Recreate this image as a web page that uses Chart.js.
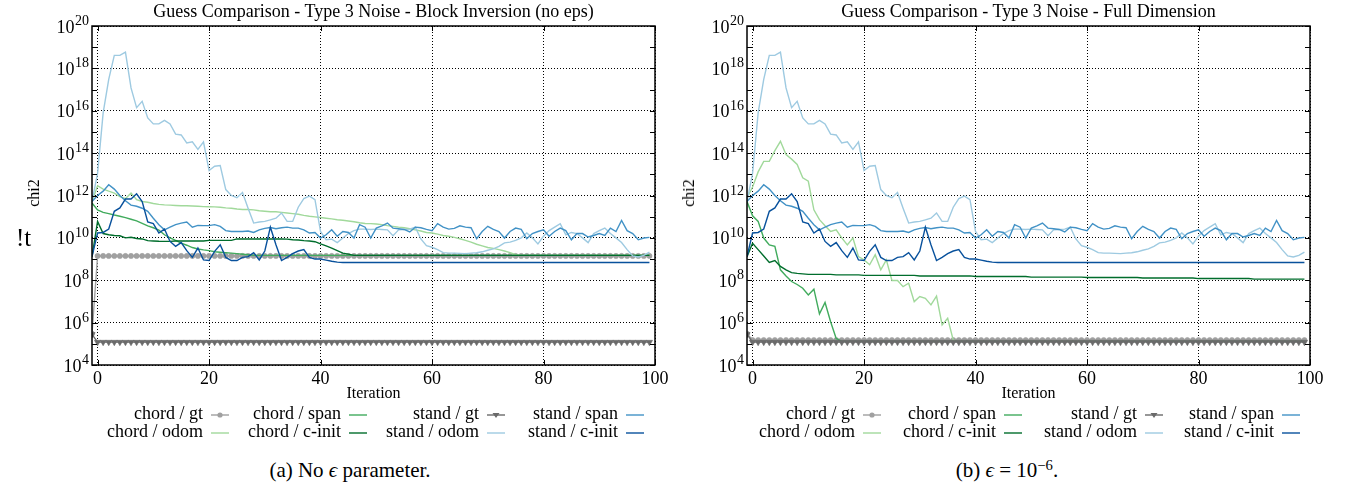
<!DOCTYPE html>
<html><head><meta charset="utf-8">
<script src="https://cdn.jsdelivr.net/npm/chart.js@4.4.1/dist/chart.umd.min.js"></script>
<style>
html,body{margin:0;padding:0;background:#fff;}
#wrap{position:relative;width:1346px;height:489px;overflow:hidden;font-family:'Liberation Serif','Times New Roman',serif;color:#000;background:#fff;}
#wrap canvas{position:absolute;top:0;}
.t{position:absolute;white-space:nowrap;line-height:1;}
.t sup{font-size:70%;vertical-align:0.5em;line-height:0;}
</style></head>
<body><div id="wrap">
<canvas id="c1" width="673" height="400" style="left:0px"></canvas>
<canvas id="c2" width="673" height="400" style="left:673px"></canvas>
</div>
<script>
// ---------------- data ----------------
const iterations = [-1,
0,1,2,3,4,5,6,7,8,9,
10,11,12,13,14,15,16,17,18,19,
20,21,22,23,24,25,26,27,28,29,
30,31,32,33,34,35,36,37,38,39,
40,41,42,43,44,45,46,47,48,49,
50,51,52,53,54,55,56,57,58,59,
60,61,62,63,64,65,66,67,68,69,
70,71,72,73,74,75,76,77,78,79,
80,81,82,83,84,85,86,87,88,89,
90,91,92,93,94,95,96,97,98,99];

const xTickValues = [0, 20, 40, 60, 80, 100];
const xTickLabels = ['0', '20', '40', '60', '80', '100'];
const yDecades = [4,5,6,7,8,9,10,11,12,13,14,15,16,17,18,19,20];
const yLabelDecades = [4,6,8,10,12,14,16,18,20];

const seriesLabels = ['chord / gt','chord / odom','chord / span','chord / c-init','stand / gt','stand / odom','stand / span','stand / c-init'];

// (a) No eps parameter
const chordGtA = [3e5,
1.4e9,1.4e9,1.4e9,1.4e9,1.4e9,1.4e9,1.4e9,1.4e9,1.4e9,1.4e9,
1.4e9,1.4e9,1.4e9,1.4e9,1.4e9,1.4e9,1.4e9,1.4e9,1.4e9,1.4e9,
1.4e9,1.4e9,1.4e9,1.4e9,1.4e9,1.4e9,1.4e9,1.4e9,1.4e9,1.4e9,
1.4e9,1.4e9,1.4e9,1.4e9,1.4e9,1.4e9,1.4e9,1.4e9,1.4e9,1.4e9,
1.4e9,1.4e9,1.4e9,1.4e9,1.4e9,1.4e9,1.4e9,1.4e9,1.4e9,1.4e9,
1.4e9,1.4e9,1.4e9,1.4e9,1.4e9,1.4e9,1.4e9,1.4e9,1.4e9,1.4e9,
1.4e9,1.4e9,1.4e9,1.4e9,1.4e9,1.4e9,1.4e9,1.4e9,1.4e9,1.4e9,
1.4e9,1.4e9,1.4e9,1.4e9,1.4e9,1.4e9,1.4e9,1.4e9,1.4e9,1.4e9,
1.4e9,1.4e9,1.4e9,1.4e9,1.4e9,1.4e9,1.4e9,1.4e9,1.4e9,1.4e9,
1.4e9,1.4e9,1.4e9,1.4e9,1.4e9,1.4e9,1.4e9,1.4e9,1.4e9,1.4e9];

const chordOdomA = [
5.2e11,2.9e12,2e12,1.6e12,1.3e12,8.9e11,7.1e11,1.3e12,6.3e11,5.2e11,
4.8e11,4.2e11,3.8e11,3.6e11,3.5e11,3.4e11,3.3e11,3.3e11,3.2e11,3.1e11,
3e11,2.95e11,2.9e11,2.8e11,2.6e11,2.5e11,2.3e11,2.2e11,2.2e11,2.1e11,
1.9e11,1.8e11,1.7e11,1.7e11,1.6e11,1.5e11,1.4e11,1.3e11,1.15e11,1.05e11,
9.8e10,9.1e10,8.5e10,7.9e10,7.2e10,6.8e10,6.3e10,5.8e10,5.2e10,4.8e10,
4.7e10,4.5e10,4.2e10,3.8e10,3.5e10,3.2e10,3e10,2.7e10,2.4e10,2.1e10,
1.8e10,1.7e10,1.5e10,1.3e10,1.2e10,1.05e10,9.1e9,7.6e9,6.3e9,5e9,
4.2e9,3.5e9,3.2e9,2.8e9,2.4e9,2e9,1.6e9,1.5e9,1.5e9,1.5e9,
1.5e9,1.5e9,1.5e9,1.5e9,1.5e9,1.5e9,1.5e9,1.5e9,1.5e9,1.5e9,
1.5e9,1.5e9,1.5e9,1.5e9,1.5e9,1.5e9,1.5e9,1.5e9,1.5e9,1.5e9,
1.5e9];

const chordSpanA = [
4.4e11,2.1e11,1.6e11,1.4e11,1.2e11,1.05e11,9.1e10,7.6e10,6.3e10,4.8e10,
3.7e10,3e10,2.3e10,1.4e10,1e10,7.6e9,5.6e9,4.5e9,3.5e9,3e9,
2.7e9,2.5e9,2.2e9,2.1e9,2e9,1.9e9,1.8e9,1.7e9,1.6e9,1.5e9,
1.5e9,1.5e9,1.5e9,1.5e9,1.5e9,1.5e9,1.5e9,1.5e9,1.5e9,1.5e9,
1.5e9,1.5e9,1.5e9,1.5e9,1.5e9,1.5e9,1.5e9,1.5e9,1.5e9,1.5e9,
1.5e9,1.5e9,1.5e9,1.5e9,1.5e9,1.5e9,1.5e9,1.5e9,1.5e9,1.5e9,
1.5e9,1.5e9,1.5e9,1.5e9,1.5e9,1.5e9,1.5e9,1.5e9,1.5e9,1.5e9,
1.5e9,1.5e9,1.5e9,1.5e9,1.5e9,1.5e9,1.5e9,1.5e9,1.5e9,1.5e9,
1.5e9,1.5e9,1.5e9,1.5e9,1.5e9,1.5e9,1.5e9,1.5e9,1.5e9,1.5e9,
1.5e9,1.5e9,1.5e9,1.5e9,1.5e9,1.5e9,1.5e9,1.5e9,1.5e9,1.5e9,
1.5e9];

const chordCinitA = [
1.3e9,6e10,1.6e10,1.4e10,1.3e10,1.26e10,1e10,1.07e10,9.3e9,8.9e9,
7.4e9,7.1e9,6.9e9,6.8e9,6.8e9,7.1e9,7.1e9,7.1e9,7.1e9,7.1e9,
7.1e9,7.6e9,7.6e9,7.6e9,7.6e9,7.6e9,8.9e9,8.9e9,8.9e9,8.9e9,
8.9e9,8.9e9,8.9e9,8.9e9,8.9e9,8.7e9,8.1e9,7.9e9,7.4e9,7.1e9,
6.6e9,5.2e9,4.2e9,3.3e9,2.5e9,1.9e9,1.7e9,
1.5e9,1.5e9,1.5e9,1.5e9,1.5e9,1.5e9,1.5e9,1.5e9,1.5e9,1.5e9,
1.5e9,1.5e9,1.5e9,1.5e9,1.5e9,1.5e9,1.5e9,1.5e9,1.5e9,1.5e9,
1.5e9,1.5e9,1.5e9,1.5e9,1.5e9,1.5e9,1.5e9,1.5e9,1.5e9,1.5e9,
1.5e9,1.5e9,1.5e9,1.5e9,1.5e9,1.5e9,1.5e9,1.5e9,1.5e9,1.5e9,
1.5e9,1.5e9,1.5e9,1.5e9,1.5e9,1.5e9,1.5e9,1.5e9,1.5e9,1.5e9,
1.5e9,1.5e9,1.5e9,1.5e9];

// stand series (same in both panels)
const standGt = [2.8e5,
1.2e5,1.2e5,1.2e5,1.2e5,1.2e5,1.2e5,1.2e5,1.2e5,1.2e5,1.2e5,
1.2e5,1.2e5,1.2e5,1.2e5,1.2e5,1.2e5,1.2e5,1.2e5,1.2e5,1.2e5,
1.2e5,1.2e5,1.2e5,1.2e5,1.2e5,1.2e5,1.2e5,1.2e5,1.2e5,1.2e5,
1.2e5,1.2e5,1.2e5,1.2e5,1.2e5,1.2e5,1.2e5,1.2e5,1.2e5,1.2e5,
1.2e5,1.2e5,1.2e5,1.2e5,1.2e5,1.2e5,1.2e5,1.2e5,1.2e5,1.2e5,
1.2e5,1.2e5,1.2e5,1.2e5,1.2e5,1.2e5,1.2e5,1.2e5,1.2e5,1.2e5,
1.2e5,1.2e5,1.2e5,1.2e5,1.2e5,1.2e5,1.2e5,1.2e5,1.2e5,1.2e5,
1.2e5,1.2e5,1.2e5,1.2e5,1.2e5,1.2e5,1.2e5,1.2e5,1.2e5,1.2e5,
1.2e5,1.2e5,1.2e5,1.2e5,1.2e5,1.2e5,1.2e5,1.2e5,1.2e5,1.2e5,
1.2e5,1.2e5,1.2e5,1.2e5,1.2e5,1.2e5,1.2e5,1.2e5,1.2e5,1.2e5];

const standOdom = [
5.2e11,1.1e13,7.9e15,3e17,4.1e18,4.1e18,5.9e18,1.2e17,1.4e16,2.8e16,
4.6e15,2.4e15,2.4e15,3.5e15,2.4e15,7.9e14,7.2e14,3e14,3.4e14,1.5e14,
3.4e14,1.5e13,2.4e13,2.6e13,1.9e12,1e12,7.9e11,1.4e12,2.5e11,5e10,
5.6e10,6e10,7.1e10,8.5e10,1.5e11,6e10,6e10,2.8e11,7.1e11,9.3e11,
6.3e11,2e10,8.1e9,8.7e9,6e9,9.8e9,1.6e10,2.2e10,2.6e10,2.6e10,
2.5e10,2.6e10,2.5e10,2.4e10,1.26e10,2.4e10,2.5e10,2.6e10,3.2e10,8.9e9,
4.3e9,3.6e9,2.8e9,2e9,1.9e9,1.9e9,1.86e9,1.8e9,1.9e9,2e9,
2.2e9,2.6e9,3e9,4e9,5.8e9,6.3e9,7.6e9,1e10,1.7e10,1e10,
5.2e9,1.2e10,2.2e10,3.2e10,4.7e10,1.4e10,1.8e10,1.6e10,1e10,6e9,
1.6e10,2.2e10,2.9e10,1.6e10,1e10,6e9,2.8e9,1.4e9,1.26e9,1.5e9,
2.1e9];

const standSpan = [
5.2e11,1e12,1.6e12,3.2e12,2e12,1e12,5.6e11,3.5e11,3.1e11,2.5e11,
1.8e11,8.5e10,4.2e10,2.4e10,3.2e10,4.2e10,5e10,5.6e10,3.2e10,3.9e10,
3.8e10,3.8e10,4.2e10,3.5e10,2.2e10,2e10,2e10,2e10,2.1e10,1.8e10,
2.4e10,2.8e10,3.1e10,2.7e10,3e10,3.2e10,2.9e10,2.9e10,2.4e10,1.7e10,
1.8e10,9.8e9,1.4e10,2.4e10,1.2e10,2e10,1.8e10,9.8e9,4.2e10,3.2e10,
9.8e9,2.9e10,3.7e10,5e10,2.9e10,2.7e10,2.5e10,1.9e10,3.2e10,3e10,
2.5e10,2.2e10,4.7e10,3.2e10,2.6e10,2.8e10,3.7e10,3.2e10,3e10,9.1e9,
2e10,3.5e10,2.5e10,2e10,9.8e9,2e10,2.9e10,2.5e10,9.1e9,1.6e10,
2e10,2.4e10,1.2e10,2e10,2.9e10,2.2e10,8.1e9,1.6e10,1.6e10,1.1e10,
1.3e10,1.6e10,1.3e10,2.9e10,2e10,6.6e10,2.2e10,1.6e10,8.1e9,9.8e9,
1.05e10];

const standCinit = [
1.3e9,1.7e10,1.8e10,2.6e10,1.8e11,2.6e11,6.8e11,6.8e11,1.2e12,5.2e11,
5.6e10,4.7e10,1.7e10,2.6e10,6.8e9,4e9,6e9,2.5e9,1.2e9,3.3e9,
9.1e8,8.5e8,2.3e9,4.7e9,1.2e9,8.5e8,8.5e8,1.2e9,1.3e9,2e9,
9.1e8,2.4e9,3.2e10,4.7e9,8.5e8,1.2e9,1.8e9,2.4e9,2.8e9,1.2e9,
1e9,1e9,8.9e8,7.9e8,7.2e8,
6.9e8,6.9e8,6.9e8,6.9e8,6.9e8,6.9e8,6.9e8,6.9e8,6.9e8,6.9e8,
6.9e8,6.9e8,6.9e8,6.9e8,6.9e8,6.9e8,6.9e8,6.9e8,6.9e8,6.9e8,
6.9e8,6.9e8,6.9e8,6.9e8,6.9e8,6.9e8,6.9e8,6.9e8,6.9e8,6.9e8,
6.9e8,6.9e8,6.9e8,6.9e8,6.9e8,6.9e8,6.9e8,6.9e8,6.9e8,6.9e8,
6.9e8,6.9e8,6.9e8,6.9e8,6.9e8,6.9e8,6.9e8,6.9e8,6.9e8,6.9e8,
6.9e8,6.9e8,6.9e8,6.9e8,6.9e8,6.9e8];

// (b) eps = 1e-6
const chordGtB = [3e5,
1.5e5,1.5e5,1.5e5,1.5e5,1.5e5,1.5e5,1.5e5,1.5e5,1.5e5,1.5e5,
1.5e5,1.5e5,1.5e5,1.5e5,1.5e5,1.5e5,1.5e5,1.5e5,1.5e5,1.5e5,
1.5e5,1.5e5,1.5e5,1.5e5,1.5e5,1.5e5,1.5e5,1.5e5,1.5e5,1.5e5,
1.5e5,1.5e5,1.5e5,1.5e5,1.5e5,1.5e5,1.5e5,1.5e5,1.5e5,1.5e5,
1.5e5,1.5e5,1.5e5,1.5e5,1.5e5,1.5e5,1.5e5,1.5e5,1.5e5,1.5e5,
1.5e5,1.5e5,1.5e5,1.5e5,1.5e5,1.5e5,1.5e5,1.5e5,1.5e5,1.5e5,
1.5e5,1.5e5,1.5e5,1.5e5,1.5e5,1.5e5,1.5e5,1.5e5,1.5e5,1.5e5,
1.5e5,1.5e5,1.5e5,1.5e5,1.5e5,1.5e5,1.5e5,1.5e5,1.5e5,1.5e5,
1.5e5,1.5e5,1.5e5,1.5e5,1.5e5,1.5e5,1.5e5,1.5e5,1.5e5,1.5e5,
1.5e5,1.5e5,1.5e5,1.5e5,1.5e5,1.5e5,1.5e5,1.5e5,1.5e5,1.5e5];

const chordOdomB = [
7.6e11,2.5e12,1.3e13,4.1e13,4.1e13,1.3e14,3.6e14,8.5e13,5.2e13,2.9e13,
6.8e12,4.7e12,2.1e11,7.2e10,3.7e10,2e10,2.4e10,1e10,4.7e9,9.8e9,
1.3e9,9.1e8,5.4e8,1.6e9,3.1e8,9.1e8,9.8e7,9.8e7,5e7,7.2e7,
9.8e6,1.7e7,1.4e7,6.9e6,1.8e7,7.8e5,1.6e6,1.5e5,
1.3e5,1.3e5,1.3e5,1.3e5,1.3e5,1.3e5,1.3e5,1.3e5,1.3e5,1.3e5,
1.3e5,1.3e5,1.3e5,1.3e5,1.3e5,1.3e5,1.3e5,1.3e5,1.3e5,1.3e5,
1.3e5,1.3e5,1.3e5,1.3e5,1.3e5,1.3e5,1.3e5,1.3e5,1.3e5,1.3e5,
1.3e5,1.3e5,1.3e5,1.3e5,1.3e5,1.3e5,1.3e5,1.3e5,1.3e5,1.3e5,
1.3e5,1.3e5,1.3e5,1.3e5,1.3e5,1.3e5,1.3e5,1.3e5,1.3e5,1.3e5,
1.3e5,1.3e5,1.3e5,1.3e5,1.3e5,1.3e5,1.3e5,1.3e5,1.3e5,1.3e5,
1.3e5,1.3e5,1.3e5];

const chordSpanB = [
5.2e11,1.1e11,6e10,9.8e9,4.7e9,4e9,3.1e8,1.6e8,8.7e7,6.3e7,
4.2e7,2e7,3.8e7,2.6e6,8.9e6,1.1e6,1.8e5,
1.3e5,1.3e5,1.3e5,1.3e5,1.3e5,1.3e5,1.3e5,1.3e5,1.3e5,1.3e5,
1.3e5,1.3e5,1.3e5,1.3e5,1.3e5,1.3e5,1.3e5,1.3e5,1.3e5,1.3e5,
1.3e5,1.3e5,1.3e5,1.3e5,1.3e5,1.3e5,1.3e5,1.3e5,1.3e5,1.3e5,
1.3e5,1.3e5,1.3e5,1.3e5,1.3e5,1.3e5,1.3e5,1.3e5,1.3e5,1.3e5,
1.3e5,1.3e5,1.3e5,1.3e5,1.3e5,1.3e5,1.3e5,1.3e5,1.3e5,1.3e5,
1.3e5,1.3e5,1.3e5,1.3e5,1.3e5,1.3e5,1.3e5,1.3e5,1.3e5,1.3e5,
1.3e5,1.3e5,1.3e5,1.3e5,1.3e5,1.3e5,1.3e5,1.3e5,1.3e5,1.3e5,
1.3e5,1.3e5,1.3e5,1.3e5,1.3e5,1.3e5,1.3e5,1.3e5,1.3e5,1.3e5,
1.3e5,1.3e5,1.3e5,1.3e5];

const chordCinitB = [
1.3e9,5.6e9,2.8e9,1.4e9,6.9e8,8.5e8,4.5e8,3.1e8,2.3e8,2.1e8,2e8,
1.9e8,1.9e8,1.9e8,1.9e8,1.9e8,1.8e8,1.8e8,1.8e8,1.8e8,1.8e8,
1.7e8,1.7e8,1.7e8,1.7e8,1.7e8,1.7e8,1.7e8,1.7e8,1.7e8,1.7e8,
1.6e8,1.6e8,1.6e8,1.6e8,1.6e8,1.6e8,1.6e8,1.6e8,1.6e8,1.6e8,
1.5e8,1.5e8,1.5e8,1.5e8,1.5e8,1.5e8,1.5e8,1.5e8,1.5e8,1.5e8,
1.4e8,1.4e8,1.4e8,1.4e8,1.4e8,1.4e8,1.4e8,1.4e8,1.4e8,1.4e8,
1.35e8,1.35e8,1.35e8,1.35e8,1.35e8,1.35e8,1.35e8,1.35e8,1.35e8,1.35e8,
1.28e8,1.28e8,1.28e8,1.28e8,1.28e8,1.28e8,1.28e8,1.28e8,1.28e8,1.28e8,
1.2e8,1.2e8,1.2e8,1.2e8,1.2e8,1.2e8,1.2e8,1.2e8,1.2e8,1.2e8,
1.13e8,1.13e8,1.13e8,1.13e8,1.13e8,1.13e8,1.13e8,1.13e8,1.13e8,1.13e8];

const panelA = [chordGtA, chordOdomA, chordSpanA, chordCinitA, standGt, standOdom, standSpan, standCinit];
const panelB = [chordGtB, chordOdomB, chordSpanB, chordCinitB, standGt, standOdom, standSpan, standCinit];

// ---------------- styles ----------------
const FONT = "'Liberation Serif', 'Times New Roman', serif";
const seriesStyle = {
  'chord / gt':     {color: '#a0a0a0', marker: 'circle', radius: 2.6},
  'chord / odom':   {color: '#a1d99b'},
  'chord / span':   {color: '#41ab5d'},
  'chord / c-init': {color: '#006d2c'},
  'stand / gt':     {color: '#6a6a6a', marker: 'triangle', radius: 3.6, rotation: 180},
  'stand / odom':   {color: '#9ecae1'},
  'stand / span':   {color: '#4292c6'},
  'stand / c-init': {color: '#08519c'}
};

const framePlugin = {
  id: 'frame',
  afterDraw(chart) {
    const {ctx, chartArea: a} = chart;
    const xs = chart.scales.x, ys = chart.scales.y;
    ctx.save();
    ctx.strokeStyle = '#000';
    ctx.lineWidth = 1;
    ctx.beginPath();
    yDecades.forEach(e => {
      const p = Math.round(ys.getPixelForValue(Math.pow(10, e))) + 0.5;
      ctx.moveTo(a.left, p); ctx.lineTo(a.left + 5, p);
      ctx.moveTo(a.right, p); ctx.lineTo(a.right - 5, p);
    });
    xTickValues.forEach(v => {
      const p = Math.round(xs.getPixelForValue(v)) + 0.5;
      ctx.moveTo(p, a.top); ctx.lineTo(p, a.top + 5);
      ctx.moveTo(p, a.bottom); ctx.lineTo(p, a.bottom - 5);
    });
    ctx.stroke();
    ctx.lineWidth = 1.5;
    ctx.strokeRect(a.left, a.top, a.right - a.left, a.bottom - a.top);
    // y tick labels 10^n
    ctx.fillStyle = '#000';
    ctx.textBaseline = 'alphabetic';
    ctx.textAlign = 'right';
    yLabelDecades.forEach(e => {
      const py = ys.getPixelForValue(Math.pow(10, e));
      const sup = String(e);
      ctx.font = '14px ' + FONT;
      ctx.fillText(sup, a.left - 3, py - 1);
      const w = ctx.measureText(sup).width;
      ctx.font = '18px ' + FONT;
      ctx.fillText('10', a.left - 3 - w - 0.5, py + 6.5);
    });
    ctx.restore();
  }
};

function buildChart(canvasId, values, geom) {
  const datasets = seriesLabels.map((label, i) => {
    const st = seriesStyle[label];
    return {
      label,
      data: iterations.map((x, j) => ({x, y: values[i][j]})),
      borderColor: st.color,
      backgroundColor: st.color,
      borderWidth: 1.4,
      pointRadius: st.marker ? st.radius : 0,
      pointStyle: st.marker || 'circle',
      rotation: st.rotation || 0,
      pointBorderWidth: 0.6,
      pointBackgroundColor: st.color,
      pointBorderColor: st.color,
      tension: 0,
      order: -i
    };
  });
  return new Chart(document.getElementById(canvasId), {
    type: 'line',
    data: {datasets},
    options: {
      responsive: false,
      animation: false,
      devicePixelRatio: 1,
      events: [],
      layout: {padding: {left: 0, right: geom.padRight, top: geom.padTop, bottom: 0}},
      plugins: {legend: {display: false}, tooltip: {enabled: false}, title: {display: false}},
      scales: {
        x: {
          type: 'linear', min: -1, max: 100,
          afterBuildTicks: sc => { sc.ticks = xTickValues.map(v => ({value: v})); },
          afterFit: sc => { sc.height = geom.xAxisHeight; },
          grid: {color: '#000', lineWidth: 1, drawTicks: false},
          border: {display: false, dash: [1, 2]},
          ticks: {
            font: {family: FONT, size: 18}, color: '#000', padding: 3,
            maxRotation: 0, autoSkip: false,
            callback: v => xTickLabels[xTickValues.indexOf(v)]
          }
        },
        y: {
          type: 'logarithmic', min: 1e4, max: 1e20,
          afterBuildTicks: sc => { sc.ticks = yDecades.map(e => ({value: Math.pow(10, e)})); },
          afterFit: sc => { sc.width = geom.yAxisWidth; },
          grid: {
            color: c => (c.tick && Math.round(Math.log10(c.tick.value)) % 2 === 0) ? '#000' : 'rgba(0,0,0,0)',
            lineWidth: 1, drawTicks: false
          },
          border: {display: false, dash: [1, 2]},
          ticks: {display: false, autoSkip: false}
        }
      }
    },
    plugins: [framePlugin]
  });
}

buildChart('c1', panelA, {padTop: 26, padRight: 18, xAxisHeight: 35, yAxisWidth: 92});
buildChart('c2', panelB, {padTop: 26, padRight: 36, xAxisHeight: 35, yAxisWidth: 74});

// ---------------- text overlays ----------------
const wrap = document.getElementById('wrap');
function addText(html, x, baseline, size, align, extra) {
  const d = document.createElement('div');
  d.className = 't';
  d.innerHTML = html;
  d.style.fontSize = size + 'px';
  d.style.left = x + 'px';
  d.style.top = (baseline - 0.8375 * size) + 'px';
  d.style.transform = align === 'center' ? 'translateX(-50%)' : (align === 'right' ? 'translateX(-100%)' : 'none');
  if (extra) Object.assign(d.style, extra);
  wrap.appendChild(d);
  return d;
}
function addRotated(text, cx, cy, size) {
  const d = document.createElement('div');
  d.className = 't';
  d.textContent = text;
  d.style.fontSize = size + 'px';
  d.style.left = cx + 'px';
  d.style.top = cy + 'px';
  d.style.transform = 'translate(-50%,-50%) rotate(-90deg)';
  wrap.appendChild(d);
}
function addLegend(sampleEnds, baselines) {
  const cols = [[0, 1], [2, 3], [4, 5], [6, 7]];
  cols.forEach((pair, c) => {
    pair.forEach((idx, r) => {
      const label = seriesLabels[idx];
      const st = seriesStyle[label];
      const end = sampleEnds[c], start = end - 18, base = baselines[r];
      addText(label, start - 8, base, 18, 'right');
      const svgNS = 'http://www.w3.org/2000/svg';
      const svg = document.createElementNS(svgNS, 'svg');
      svg.setAttribute('width', '18'); svg.setAttribute('height', '10');
      svg.style.position = 'absolute';
      svg.style.left = start + 'px';
      svg.style.top = (base - 4.5 - 5) + 'px';
      const ln = document.createElementNS(svgNS, 'line');
      ln.setAttribute('x1', '0'); ln.setAttribute('x2', '18');
      ln.setAttribute('y1', '5'); ln.setAttribute('y2', '5');
      ln.setAttribute('stroke', st.color); ln.setAttribute('stroke-width', '1.4');
      svg.appendChild(ln);
      if (st.marker === 'circle') {
        const ci = document.createElementNS(svgNS, 'circle');
        ci.setAttribute('cx', '9'); ci.setAttribute('cy', '5'); ci.setAttribute('r', '2.6');
        ci.setAttribute('fill', st.color);
        svg.appendChild(ci);
      } else if (st.marker === 'triangle') {
        const pg = document.createElementNS(svgNS, 'polygon');
        pg.setAttribute('points', '5.5,3 12.5,3 9,8');
        pg.setAttribute('fill', st.color);
        svg.appendChild(pg);
      }
      wrap.appendChild(svg);
    });
  });
}

// panel (a)
addText('Guess Comparison - Type 3 Noise - Block Inversion (no eps)', 373.5, 17, 18, 'center');
addRotated('chi2', 34, 193, 16);
addText('!t', 16, 246, 25, 'left');
addText('Iteration', 373.5, 398, 16, 'center');
addLegend([229, 367, 505, 644], [419, 437]);
addText('(a) No <i>ϵ</i> parameter.', 350, 478, 21, 'center');

// panel (b)
addText('Guess Comparison - Type 3 Noise - Full Dimension', 1028.5, 17, 18, 'center');
addRotated('chi2', 689, 193, 16);
addText('Iteration', 1028.5, 398, 16, 'center');
addLegend([881, 1022, 1163, 1300], [419, 437]);
addText('(b) <i>ϵ</i> = 10<sup>−6</sup>.', 1007, 478, 21, 'center');
</script>
</body></html>
